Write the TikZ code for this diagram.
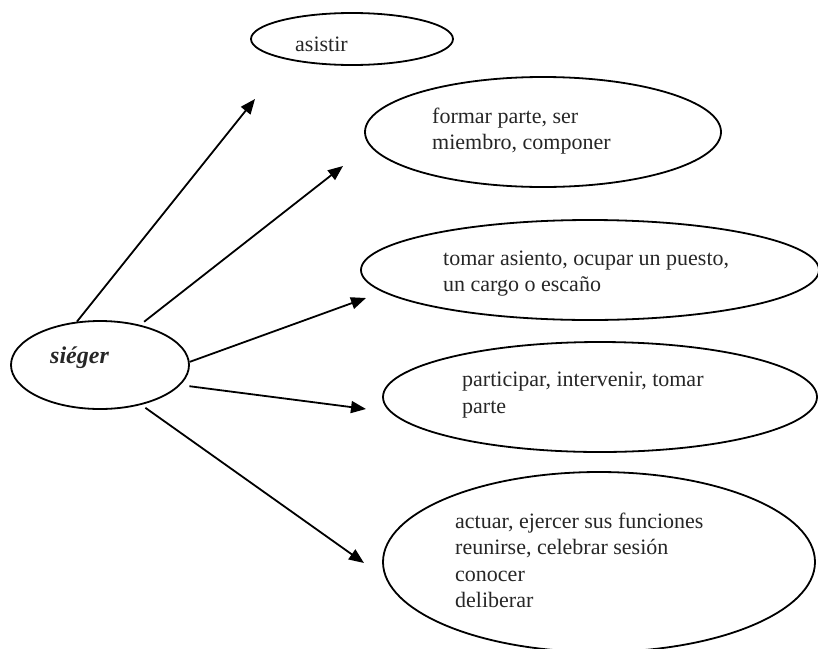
\documentclass[tikz,border=0pt]{standalone}
\usepackage{fontspec}
\setmainfont{Liberation Serif}
\usetikzlibrary{shapes.geometric,arrows.meta}

\tikzset{
    oval/.style={draw,ellipse,line width=1.8pt,inner sep=0pt},
    txt/.style={anchor=base west,align=left,inner sep=0pt,text=black!85,
        font=\fontsize{22}{26.5}\selectfont},
    arr/.style={line width=1.8pt,-{Triangle[length=15pt,width=12pt]}}
}

\begin{document}
\begin{tikzpicture}[x=1pt,y=-1pt]
    \useasboundingbox (0,0) rectangle (818,648);
    \clip (0,0) rectangle (818,648);
    \node[oval,minimum width=178,minimum height=88] (sieger) at (100,365) {};
    \node[oval,minimum width=202,minimum height=52] (asistir) at (352,39) {};
    \node[oval,minimum width=356,minimum height=110] (formar) at (543,132) {};
    \node[oval,minimum width=458,minimum height=100] (tomar) at (590,270) {};
    \node[oval,minimum width=434,minimum height=110] (participar) at (600,397) {};
    \node[oval,minimum width=432,minimum height=180] (actuar) at (599,562) {};
    \node[txt,font=\fontsize{24}{28}\selectfont\bfseries\itshape] (siegertxt) at (50,363) {siéger};
    \node[txt] (asistirtxt) at (295,51) {asistir};
    \node[txt] (formartxt) at (432,149.5) {formar parte, ser\\miembro, componer};
    \node[txt] (tomartxt) at (443,291.5) {tomar asiento, ocupar un puesto,\\un cargo o escaño};
    \node[txt] (participartxt) at (462,413) {participar, intervenir, tomar\\parte};
    \node[txt] (actuartxt) at (455,607.5) {actuar, ejercer sus funciones\\reunirse, celebrar sesión\\conocer\\deliberar};
    \coordinate (tip1) at (255,99);
    \coordinate (tip2) at (343,166);
    \coordinate (tip3) at (366,298);
    \coordinate (tip4) at (366,409);
    \coordinate (tip5) at (364,563);
    \draw[arr] (sieger.118) -- (tip1);
    \draw[arr,shorten <=5pt] (sieger.45) -- (tip2);
    \draw[arr] (sieger.2) -- (tip3);
    \draw[arr,shorten <=9pt] (sieger.-14) -- (tip4);
    \draw[arr,shorten <=5pt] (sieger.-44) -- (tip5);
\end{tikzpicture}
\end{document}
